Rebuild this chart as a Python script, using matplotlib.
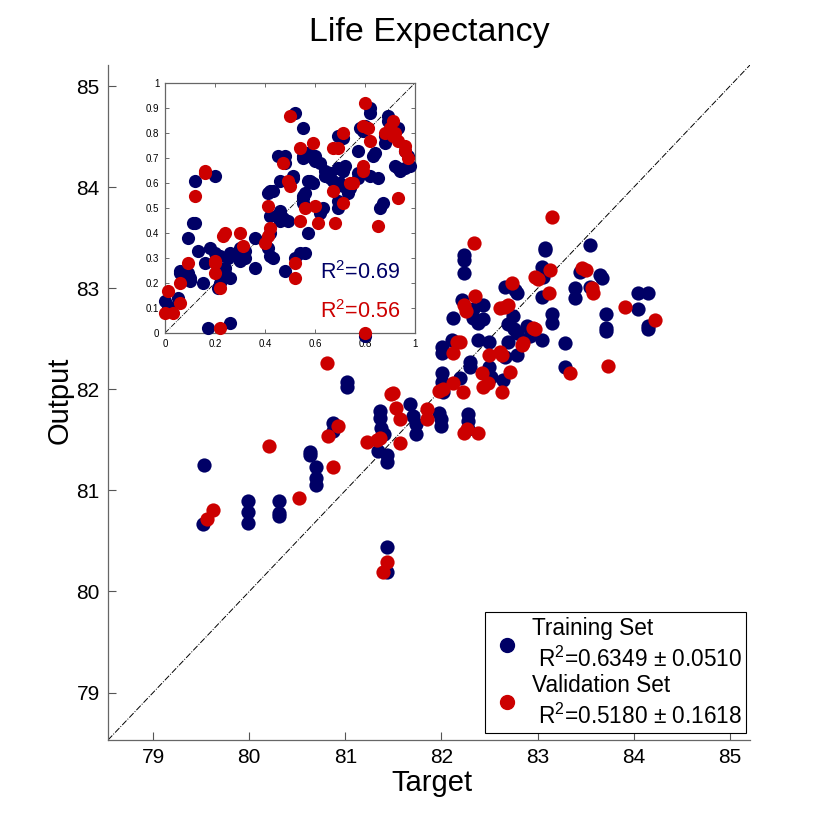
import matplotlib
matplotlib.use("Agg")
import matplotlib.pyplot as plt
from matplotlib.lines import Line2D

plt.rcParams['font.family'] = ['Liberation Sans', 'DejaVu Sans']
plt.rcParams['mathtext.fontset'] = 'custom'
plt.rcParams['mathtext.rm'] = 'Liberation Sans'
plt.rcParams['mathtext.it'] = 'Liberation Sans'

BLUE = '#000066'
RED = '#CC0000'

# ---- main plot data (Target, Output) ----
train_pts = [
    (79.53, 81.25), (79.52, 80.67), (79.99, 80.90), (79.99, 80.79), (79.99, 80.68),
    (80.31, 80.90), (80.31, 80.78), (80.31, 80.75),
    (80.63, 81.38), (80.63, 81.35), (80.69, 81.23), (80.69, 81.12), (80.69, 81.05),
    (81.02, 82.07), (81.02, 82.02), (80.87, 81.67), (80.87, 81.59),
    (81.36, 81.79), (81.36, 81.72), (81.37, 81.62), (81.40, 81.56), (81.34, 81.39),
    (81.43, 81.35), (81.43, 81.28), (81.43, 80.44), (81.43, 80.19),
    (81.67, 81.86), (81.70, 81.74), (81.73, 81.66), (81.73, 81.56),
    (82.23, 83.33), (82.23, 83.28), (82.23, 83.15), (83.08, 83.40), (83.08, 83.38),
    (83.55, 83.43), (83.05, 83.21), (83.06, 83.11), (83.05, 82.91), (83.44, 83.16),
    (83.65, 83.13), (83.67, 83.10), (83.39, 83.00), (83.39, 82.90), (83.55, 83.01),
    (84.04, 82.95), (84.15, 82.95), (84.04, 82.80), (84.15, 82.63), (84.15, 82.60),
    (83.71, 82.75), (83.71, 82.61), (83.71, 82.58), (83.15, 82.75), (83.15, 82.66),
    (83.28, 82.46), (83.28, 82.22), (82.66, 83.01), (82.77, 82.98), (82.79, 82.95),
    (82.21, 82.88), (82.12, 82.71), (82.33, 82.80), (82.43, 82.83), (82.33, 82.71),
    (82.38, 82.66), (82.43, 82.70), (82.74, 82.73), (82.69, 82.65), (82.75, 82.60),
    (82.79, 82.56), (82.89, 82.63), (82.92, 82.53), (83.05, 82.49),
    (82.38, 82.49), (82.49, 82.47), (82.69, 82.47), (82.79, 82.34), (82.66, 82.32),
    (82.01, 82.42), (82.01, 82.36), (82.11, 82.49),
    (82.30, 82.27), (82.30, 82.22), (82.49, 82.22), (82.51, 82.12), (82.64, 82.09),
    (82.01, 82.16), (82.01, 82.07), (82.02, 81.97), (82.19, 82.11),
    (81.97, 81.77), (81.99, 81.71), (81.99, 81.64),
    (82.28, 81.76), (82.28, 81.69), (82.28, 81.61),
]
valid_pts = [
    (80.81, 82.26), (80.21, 81.44), (79.62, 80.81), (79.56, 80.72), (80.52, 80.92),
    (80.87, 81.23), (80.92, 81.64), (80.82, 81.54),
    (81.47, 81.95), (81.50, 81.96), (81.53, 81.82), (81.57, 81.71), (81.23, 81.48),
    (81.36, 81.52), (81.33, 81.50), (81.57, 81.47), (81.39, 80.19), (81.43, 80.29),
    (83.15, 83.71), (82.34, 83.45), (82.35, 82.92), (82.23, 82.83), (82.25, 82.78),
    (83.13, 83.18), (82.97, 83.11), (83.00, 83.09), (83.46, 83.20), (83.50, 83.18),
    (83.57, 83.00), (83.58, 82.95), (83.12, 82.95), (82.73, 83.05), (83.91, 82.82),
    (84.22, 82.69), (82.61, 82.81), (82.66, 82.82), (82.69, 82.83), (82.97, 82.60),
    (82.95, 82.61), (82.84, 82.44), (82.85, 82.46), (82.16, 82.47), (82.19, 82.47),
    (82.12, 82.36), (82.49, 82.34), (82.61, 82.37), (82.63, 82.34), (82.42, 82.16),
    (82.48, 82.06), (82.43, 82.02), (82.71, 82.17), (82.63, 81.97), (82.12, 82.06),
    (81.97, 81.98), (82.02, 82.00), (82.22, 81.97), (81.85, 81.81), (81.85, 81.71),
    (82.23, 81.57), (82.27, 81.61), (82.38, 81.57), (83.34, 82.16), (83.73, 82.23),
]

# ---- inset data (normalised) ----
inset_train = [
    (0.00, 0.13), (0.01, 0.11), (0.02, 0.10), (0.05, 0.14), (0.06, 0.24), (0.06, 0.25),
    (0.09, 0.24), (0.10, 0.22), (0.10, 0.21), (0.09, 0.38), (0.12, 0.61), (0.11, 0.44),
    (0.12, 0.44), (0.13, 0.33), (0.15, 0.20), (0.16, 0.28), (0.20, 0.63), (0.18, 0.34),
    (0.20, 0.32), (0.22, 0.31), (0.20, 0.29), (0.24, 0.26), (0.24, 0.24), (0.25, 0.30),
    (0.26, 0.32), (0.26, 0.22), (0.21, 0.18), (0.22, 0.20), (0.17, 0.02), (0.26, 0.04),
    (0.29, 0.31), (0.30, 0.34), (0.32, 0.33), (0.32, 0.30), (0.30, 0.29), (0.36, 0.26),
    (0.36, 0.38), (0.41, 0.34), (0.42, 0.31), (0.43, 0.30), (0.41, 0.56), (0.42, 0.57),
    (0.43, 0.57), (0.42, 0.47), (0.42, 0.40), (0.45, 0.71), (0.48, 0.71), (0.48, 0.68),
    (0.46, 0.61), (0.46, 0.49), (0.47, 0.46), (0.46, 0.45), (0.49, 0.45), (0.48, 0.25),
    (0.51, 0.63), (0.51, 0.62), (0.52, 0.88), (0.55, 0.82), (0.55, 0.70), (0.55, 0.71),
    (0.56, 0.71), (0.57, 0.72), (0.55, 0.54), (0.55, 0.55), (0.56, 0.56), (0.55, 0.52),
    (0.52, 0.30), (0.54, 0.32), (0.56, 0.32), (0.57, 0.40), (0.57, 0.61), (0.58, 0.61),
    (0.59, 0.60), (0.59, 0.70), (0.60, 0.69), (0.60, 0.71), (0.62, 0.49), (0.63, 0.50),
    (0.62, 0.48), (0.62, 0.68), (0.64, 0.65), (0.64, 0.63), (0.66, 0.62), (0.66, 0.64),
    (0.67, 0.61), (0.69, 0.79), (0.70, 0.79), (0.71, 0.78), (0.69, 0.50), (0.69, 0.53),
    (0.69, 0.66), (0.71, 0.65), (0.72, 0.67), (0.70, 0.60), (0.71, 0.59), (0.73, 0.56),
    (0.74, 0.58), (0.77, 0.64), (0.77, 0.62), (0.77, 0.73), (0.78, 0.82), (0.79, 0.81),
    (0.80, 0.83), (0.82, 0.88), (0.82, 0.90), (0.82, 0.63), (0.83, 0.71), (0.84, 0.72),
    (0.85, 0.62), (0.86, 0.50), (0.87, 0.52), (0.88, 0.76), (0.88, 0.79), (0.89, 0.87),
    (0.89, 0.85), (0.91, 0.83), (0.93, 0.82), (0.92, 0.67), (0.93, 0.66), (0.94, 0.65),
    (0.96, 0.73), (0.97, 0.71), (0.98, 0.67), (0.96, 0.66), (0.80, -0.01),
]
inset_valid = [
    (0.01, 0.17), (0.00, 0.08), (0.03, 0.08), (0.06, 0.20), (0.06, 0.12), (0.09, 0.28),
    (0.12, 0.55), (0.16, 0.65), (0.16, 0.64), (0.20, 0.29), (0.20, 0.28), (0.20, 0.24),
    (0.22, 0.18), (0.24, 0.40), (0.23, 0.39), (0.30, 0.40), (0.31, 0.35), (0.22, 0.02),
    (0.40, 0.36), (0.41, 0.39), (0.42, 0.42), (0.41, 0.51), (0.47, 0.68), (0.49, 0.61),
    (0.50, 0.59), (0.50, 0.87), (0.54, 0.74), (0.52, 0.28), (0.52, 0.22), (0.54, 0.45),
    (0.56, 0.50), (0.59, 0.76), (0.60, 0.51), (0.61, 0.44), (0.67, 0.57), (0.67, 0.74),
    (0.69, 0.74), (0.68, 0.44), (0.71, 0.52), (0.71, 0.80), (0.75, 0.60), (0.74, 0.60),
    (0.79, 0.67), (0.79, 0.65), (0.80, 0.92), (0.79, 0.83), (0.81, 0.82), (0.82, 0.77),
    (0.85, 0.43), (0.88, 0.80), (0.90, 0.82), (0.91, 0.79), (0.92, 0.80), (0.93, 0.77),
    (0.91, 0.85), (0.93, 0.54), (0.96, 0.75), (0.96, 0.73), (0.97, 0.70), (0.80, 0.00),
]

main_ticks = [79, 80, 81, 82, 83, 84, 85]
lim = (78.53, 85.21)
inset_xticks = [0, 0.2, 0.4, 0.6, 0.8, 1]
inset_yticks = [0, 0.1, 0.2, 0.3, 0.4, 0.5, 0.6, 0.7, 0.8, 0.9, 1]
train_label = "Training Set\n R$^2$=0.6349 ± 0.0510"
valid_label = "Validation Set\n R$^2$=0.5180 ± 0.1618"
inset_r2_train = "R$^2$=0.69"
inset_r2_valid = "R$^2$=0.56"

fig = plt.figure(figsize=(8.3, 8.3), dpi=100)
ax = fig.add_axes([108/830, 1-740/830, 642/830, 675/830])

S = 105
ax.scatter([p[0] for p in train_pts], [p[1] for p in train_pts], s=S, c=BLUE, linewidths=0, zorder=3)
ax.scatter([p[0] for p in valid_pts], [p[1] for p in valid_pts], s=S, c=RED, linewidths=0, zorder=4)
ax.plot(lim, lim, color='black', linestyle='-.', linewidth=0.7, zorder=2)
ax.set_xlim(lim)
ax.set_ylim(lim)
ax.set_xticks(main_ticks)
ax.set_yticks(main_ticks)
ax.tick_params(direction='in', labelsize=15, length=6, color='#555555', width=0.8, pad=6)
for sp in ['top', 'right']:
    ax.spines[sp].set_visible(False)
for sp in ['left', 'bottom']:
    ax.spines[sp].set_color('#666666')
    ax.spines[sp].set_linewidth(0.9)

handles = [Line2D([], [], marker='o', linestyle='none', color=BLUE, markersize=10),
           Line2D([], [], marker='o', linestyle='none', color=RED, markersize=10)]
leg = ax.legend(handles, [train_label, valid_label], loc='lower right',
                bbox_to_anchor=(0.994, 0.010), borderaxespad=0, fontsize=16.3,
                frameon=True, fancybox=False, framealpha=1, handletextpad=0.35,
                labelspacing=0.1, borderpad=0.2, handlelength=1.5)
for t in leg.get_texts():
    t.set_linespacing(1.33)
leg.get_frame().set_edgecolor('black')
leg.get_frame().set_linewidth(0.8)

fig.text(429/830, 1-33/830, "Life Expectancy", ha='center', va='center', fontsize=24.5)
fig.text(432/830, 1-783/830, "Target", ha='center', va='center', fontsize=21)
fig.text(60/830, 1-400/830, "Output", ha='center', va='center', fontsize=21, rotation=90)

# ---- inset ----
axi = fig.add_axes([165/830, 1-333/830, 250/830, 250/830])
SI = 90
axi.scatter([p[0] for p in inset_train], [p[1] for p in inset_train], s=SI, c=BLUE,
            linewidths=0, zorder=3, clip_on=False)
axi.scatter([p[0] for p in inset_valid], [p[1] for p in inset_valid], s=SI, c=RED,
            linewidths=0, zorder=4, clip_on=False)
axi.plot([0, 1], [0, 1], color='black', linestyle='-.', linewidth=0.6, zorder=2)
axi.set_xlim(0, 1)
axi.set_ylim(0, 1)
axi.set_xticks(inset_xticks)
axi.set_yticks(inset_yticks)
axi.set_xticklabels(['0', '0.2', '0.4', '0.6', '0.8', '1'])
axi.set_yticklabels(['0', '0.1', '0.2', '0.3', '0.4', '0.5', '0.6', '0.7', '0.8', '0.9', '1'])
axi.tick_params(direction='in', labelsize=7, length=3, color='#555555', width=0.6,
                top=True, right=True, pad=4)
for sp in axi.spines.values():
    sp.set_color('#666666')
    sp.set_linewidth(0.9)
axi.text(0.62, 0.24, inset_r2_train, color=BLUE, fontsize=15.5, va='center', ha='left', zorder=5)
axi.text(0.62, 0.085, inset_r2_valid, color=RED, fontsize=15.5, va='center', ha='left', zorder=5)

fig.savefig("out.png", dpi=100)
